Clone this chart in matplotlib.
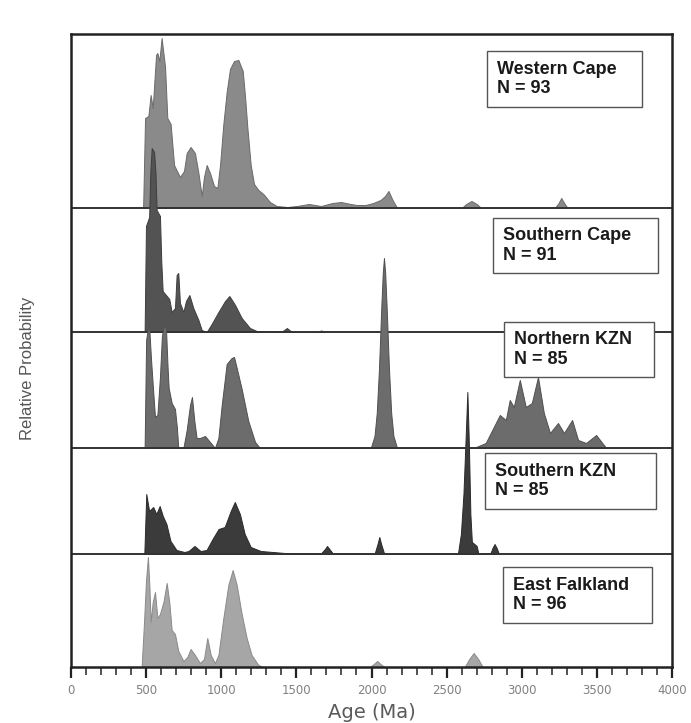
import matplotlib.pyplot as plt
from matplotlib.ticker import MultipleLocator
from matplotlib.patches import Rectangle

# relative probability curves (age in Ma, height in px)
wc_age = [480, 493, 515, 530, 544, 566, 575, 588, 603, 626, 641, 663, 686, 725, 752,
          770, 796, 825, 848, 870, 885, 903, 925, 952, 974, 992, 1014, 1036, 1058, 1085,
          1114, 1143, 1158, 1174, 1196, 1218, 1247, 1280, 1324, 1369, 1440, 1504, 1584,
          1664, 1740, 1798, 1860, 1904, 1960, 2011, 2060, 2090, 2113, 2140, 2171, 2600,
          2630, 2665, 2700, 2730, 3220, 3245, 3263, 3282, 3305]
wc_h = [0, 90, 92, 113, 100, 153, 155, 147, 170, 141, 90, 84, 43, 31, 37,
        55, 61, 55, 35, 12, 31, 43, 35, 22, 20, 43, 84, 116, 139, 147,
        148, 137, 112, 80, 43, 24, 18, 14, 6, 2, 1, 2, 4,
        2, 5, 6, 4, 3, 3, 5, 8, 12, 17, 8, 0, 0,
        4, 7, 4, 0, 0, 5, 10, 5, 0]

sc_age = [490, 499, 520, 528, 537, 553, 562, 570, 592, 601, 610, 632, 654, 670, 692,
          703, 714, 725, 748, 765, 788, 814, 848, 870, 903, 936, 981, 1025, 1054, 1092,
          1136, 1191, 1236, 1400, 1437, 1470, 1640, 1664, 1700]
sc_h = [0, 106, 115, 160, 184, 180, 160, 122, 116, 70, 41, 37, 33, 20, 24,
        57, 59, 29, 20, 31, 37, 24, 12, 2, 0, 8, 20, 31, 36, 27,
        14, 4, 1, 0, 4, 0, 0, 1.5, 0]

nk_age = [490, 500, 510, 520, 532, 544, 559, 575, 592, 605, 618, 632, 643, 650, 670,
          692, 705, 714, 748, 770, 792, 805, 821, 836, 858, 892, 925, 958, 981, 1003,
          1036, 1069, 1085, 1103, 1136, 1180, 1225, 1258,
          1995, 2020, 2035, 2050, 2065, 2075, 2083, 2091, 2101, 2116, 2131, 2146, 2170,
          2680, 2760, 2854, 2894, 2920, 2947, 2987, 3027, 3067, 3108, 3147, 3188, 3241,
          3281, 3335, 3375, 3428, 3495, 3562]
nk_h = [0, 108, 118, 122, 90, 63, 31, 33, 71, 112, 122, 120, 80, 60, 45,
        39, 20, 0, 0, 18, 43, 51, 27, 10, 10, 12, 6, 0, 10, 43,
        84, 90, 91, 80, 59, 27, 6, 0,
        0, 12, 35, 80, 140, 175, 190, 175, 140, 80, 35, 12, 0,
        0, 5, 33, 28, 48, 41, 68, 41, 45, 71, 35, 15, 25,
        15, 28, 8, 5, 13, 0]

sk_age = [488, 501, 520, 547, 568, 590, 611, 635, 662, 702, 755, 782, 822, 862, 902,
          942, 982, 1023, 1063, 1090, 1124, 1156, 1196, 1263, 1424, 1660, 1690, 1704, 1720,
          1745, 2020, 2040, 2052, 2064, 2085, 2575, 2595, 2612, 2625, 2638, 2648, 2658,
          2668, 2685, 2700, 2712, 2790, 2805, 2819, 2833, 2848]
sk_h = [0, 60, 43, 47, 40, 48, 38, 30, 13, 4, 2, 3, 8, 3, 4,
        15, 25, 27, 43, 52, 40, 20, 7, 3, 1, 0, 5, 8, 5,
        0, 0, 10, 17, 10, 0, 0, 20, 60, 110, 162, 110, 40,
        12, 10, 8, 0, 0, 6, 10, 6, 0]

ef_age = [470, 486, 499, 512, 522, 530, 544, 559, 575, 592, 615, 637, 654, 670, 692,
          714, 748, 774, 796, 825, 858, 885, 907, 930, 958, 981, 1014, 1047, 1076, 1103,
          1136, 1169, 1202, 1247, 1280, 1990, 2015, 2038, 2060, 2085, 2620, 2650, 2680,
          2710, 2740]
ef_h = [0, 45, 86, 110, 80, 45, 65, 75, 49, 53, 65, 84, 65, 37, 33,
        16, 6, 10, 18, 12, 4, 8, 29, 12, 4, 12, 49, 82, 97, 82,
        53, 29, 12, 2, 0, 0, 3, 6, 3, 0, 0, 8, 14,
        8, 0]

names = ['Western Cape', 'Southern Cape', 'Northern KZN', 'Southern KZN', 'East Falkland']
counts = [93, 91, 85, 85, 96]
curves = [(wc_age, wc_h), (sc_age, sc_h), (nk_age, nk_h), (sk_age, sk_h), (ef_age, ef_h)]

# layout (px above bottom axis), colours and label boxes (x0, y0, w, h in px of the figure)
baselines = [459, 335, 219, 113, 0]
colors = ['#8a8a8a', '#535353', '#6c6c6c', '#3b3b3b', '#a6a6a6']
edges = ['#6a6a6a', '#3e3e3e', '#505050', '#2a2a2a', '#8a8a8a']
boxes = [(487, 51, 155, 56), (493, 218, 165, 55), (504, 322, 150, 55),
         (485, 453, 171, 56), (503, 567, 149, 56)]

W, H = 691, 723
fig = plt.figure(figsize=(W / 100, H / 100), dpi=100)
ax = fig.add_axes([71 / W, (H - 667) / H, 601 / W, 633 / H])

for i, (age, h) in enumerate(curves):
    b = baselines[i]
    top = [b + v for v in h]
    ax.fill_between(age, b, top, facecolor=colors[i], edgecolor=edges[i],
                    linewidth=0.7, zorder=2 + 2 * i)
    if b > 0:
        ax.axhline(b, color='#333333', lw=1.4, zorder=3 + 2 * i)

ax.set_xlim(0, 4000)
ax.set_ylim(0, 633)
ax.set_yticks([])
ax.xaxis.set_major_locator(MultipleLocator(500))
ax.xaxis.set_minor_locator(MultipleLocator(100))
ax.tick_params(axis='x', which='major', length=8, width=1.6, color='#222222',
               labelsize=8.5, labelcolor='#808080', pad=4)
ax.tick_params(axis='x', which='minor', length=5.5, width=1.1, color='#222222')
for s in ax.spines.values():
    s.set_linewidth(1.8)
    s.set_color('#222222')
    s.set_zorder(20)

for (x0, y0, bw, bh), name, n in zip(boxes, names, counts):
    fig.patches.append(Rectangle((x0 / W, 1 - (y0 + bh) / H), bw / W, bh / H,
                                 transform=fig.transFigure, facecolor='white',
                                 edgecolor='#555555', linewidth=1.0, zorder=30))
    fig.text((x0 + 10) / W, 1 - (y0 + bh / 2) / H, name + '\nN = ' + str(n),
             ha='left', va='center', fontsize=13, fontweight='bold',
             family=['Liberation Sans', 'DejaVu Sans'], color='#1a1a1a',
             linespacing=1.2, zorder=31)

fig.text(372 / W, 1 - 712 / H, 'Age (Ma)', ha='center', va='center',
         fontsize=14, color='#5a5a5a')
fig.text(28 / W, 1 - 368 / H, 'Relative Probability', rotation=90,
         ha='center', va='center', fontsize=12,
         family=['Liberation Sans Narrow', 'Liberation Sans', 'DejaVu Sans'],
         color='#555555')

fig.savefig('out.png', dpi=100)
